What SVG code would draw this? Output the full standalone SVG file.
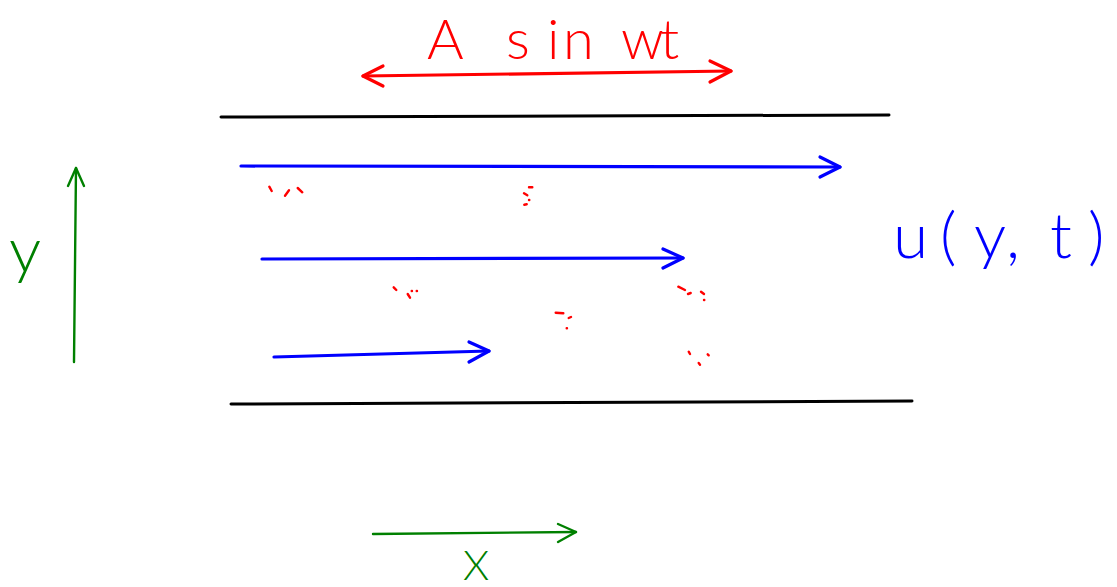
<svg xmlns="http://www.w3.org/2000/svg" width="1117" height="587" viewBox="0 0 1117 587">
<style>
.wall{stroke:#000;stroke-width:3;fill:none;stroke-linecap:round}
.red{stroke:#ff0000;stroke-width:3.2;fill:none;stroke-linecap:round;stroke-linejoin:round}
.blue{stroke:#0000ff;stroke-width:3.2;fill:none;stroke-linecap:round;stroke-linejoin:round}
.green{stroke:#008000;stroke-width:2.4;fill:none;stroke-linecap:round;stroke-linejoin:round}
.dot{stroke:#ff0000;stroke-width:2.4;fill:none;stroke-linecap:round}
.lbl{font-family:Lato,Inter,"Liberation Sans",sans-serif;font-weight:300}
</style>
<rect width="1117" height="587" fill="#fff"/>
<g id="walls">
  <path class="wall" d="M221 117 L889 115"/>
  <path class="wall" d="M231 404 L912 401"/>
</g>
<g id="connectors">
  <g id="oscillation">
    <path class="red" d="M363 76 L731 71"/>
    <path class="red" d="M383 66 L363 76 L383 86"/>
    <path class="red" d="M710 61 L731 71 L710 82"/>
  </g>
  <g id="velocity1">
    <path class="blue" d="M241 166 L840 167"/>
    <path class="blue" d="M820 157 L840 167 L820 177"/>
  </g>
  <g id="velocity2">
    <path class="blue" d="M262 259 L683 258"/>
    <path class="blue" d="M663 249 L683 258 L663 268"/>
  </g>
  <g id="velocity3">
    <path class="blue" d="M274 357 L489 351"/>
    <path class="blue" d="M469 342 L489 351 L469 362"/>
  </g>
  <g id="y-axis">
    <path class="green" d="M74 362 L76 168"/>
    <path class="green" d="M68 186 L76 168 L84 186"/>
  </g>
  <g id="x-axis">
    <path class="green" d="M373 534 L576 532"/>
    <path class="green" d="M558 524 L576 532 L558 542"/>
  </g>
</g>
<g id="marks">
  <path class="dot" d="M269.3 186.7 L271.7 191 M285 195.7 L289 190.3 M297.7 188 L302.3 192.3"/>
  <path class="dot" d="M529 187.3 L532.3 187.3 M524 193.3 L527.3 195.3 M529 200 l0.3 0 M524.3 204.7 L526.7 204.3"/>
  <path class="dot" d="M393.7 287.3 L396.3 290 M407.7 294 L410 297.7 M411.7 291 l0.3 0 M416.7 291 l0.3 0"/>
  <path class="dot" d="M555.7 312.7 L563.3 313.3 M568.7 318 L571 317 M566.7 328.3 l0.3 0"/>
  <path class="dot" d="M678.3 286.7 L685 290 M688 294 L690.7 293 M701 291.7 L704 294 M704 300 l0.3 0"/>
  <path class="dot" d="M688.7 351.7 L690 354 M707.7 354.3 L708.7 355.3 M698.7 363 L700 364.7"/>
</g>
<g id="label-force">
  <text class="lbl" fill="#ff0000" font-size="56" x="427 470 506 547 563 605 621 660" y="59">A sin wt</text>
</g>
<g id="label-u">
  <text class="lbl" fill="#0000ff" font-size="64" x="893 940 974 1006 1030 1050 1088" y="258">u(y, t)</text>
</g>
<g id="label-y">
  <text class="lbl" fill="#008000" font-size="64" x="9" y="272">y</text>
</g>
<g id="label-x">
  <text class="lbl" fill="#008000" font-size="42" x="463" y="580">X</text>
</g>
</svg>
